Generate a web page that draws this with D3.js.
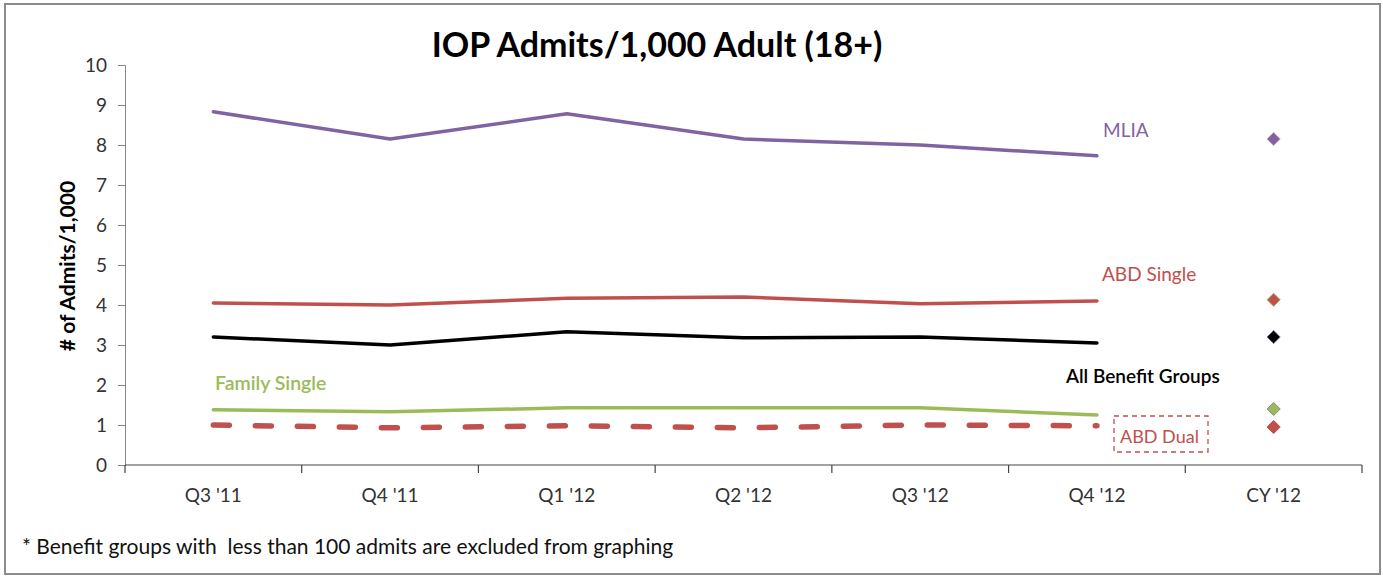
<!DOCTYPE html>
<html>
<head>
<meta charset="utf-8">
<script src="https://cdn.jsdelivr.net/npm/d3@7"></script>
<style>
  body { margin: 0; background: #fff; }
  text { font-family: Lato, "Open Sans", sans-serif; }
</style>
</head>
<body>
<script>
// quarters + the CY column
const quarters = ["Q3 '11", "Q4 '11", "Q1 '12", "Q2 '12", "Q3 '12", "Q4 '12"];
const categories = quarters.concat(["CY '12"]);

const mlia = [8.83, 8.15, 8.78, 8.15, 8.0, 7.73];
const abdSingle = [4.05, 4.0, 4.17, 4.2, 4.03, 4.1];
const allGroups = [3.2, 3.0, 3.33, 3.18, 3.2, 3.05];
const familySingle = [1.38, 1.33, 1.43, 1.43, 1.43, 1.25];
const abdDual = [1.0, 0.93, 0.98, 0.93, 1.0, 0.98];

// CY '12 values (diamonds)
const cyValues = [8.15, 4.13, 3.2, 1.4, 0.95];

const yTicks = [0, 1, 2, 3, 4, 5, 6, 7, 8, 9, 10];

const width = 1383, height = 577;

const svg = d3.select("body").append("svg")
  .attr("width", width).attr("height", height);

// outer frame
svg.append("rect")
  .attr("x", 5).attr("y", 4).attr("width", 1375).attr("height", 570)
  .attr("fill", "#fff").attr("stroke", "#8c8c8c").attr("stroke-width", 2);

const x = d3.scaleBand().domain(categories).range([125, 1362]);
const y = d3.scaleLinear().domain([0, 10]).range([465, 65]);

// y axis
const yAxis = svg.append("g")
  .attr("transform", "translate(125,0)")
  .call(d3.axisLeft(y).tickValues(yTicks).tickSize(7).tickPadding(11));
yAxis.select(".domain").attr("stroke", "#868686");
yAxis.selectAll(".tick line").attr("stroke", "#868686");
yAxis.selectAll("text").attr("font-size", 19).attr("fill", "#333")
  .style("font-family", "Lato, sans-serif");

// x axis with ticks on band boundaries
const xAxisG = svg.append("g").attr("transform", "translate(0,465)");
xAxisG.append("line").attr("x1", 125).attr("x2", 1362)
  .attr("stroke", "#444").attr("stroke-width", 1.2);
const bounds = categories.map(c => x(c)).concat([x.range()[1]]);
xAxisG.selectAll(".bt").data(bounds).enter().append("line")
  .attr("x1", d => d).attr("x2", d => d).attr("y1", 0).attr("y2", 8)
  .attr("stroke", "#444").attr("stroke-width", 1.2);
xAxisG.selectAll(".cl").data(categories).enter().append("text")
  .attr("x", d => x(d) + x.bandwidth() / 2).attr("y", 37)
  .attr("text-anchor", "middle").attr("font-size", 19).attr("fill", "#333")
  .text(d => d);

// title
svg.append("text").attr("x", 657).attr("y", 57)
  .attr("text-anchor", "middle").attr("font-size", 34).attr("font-weight", "bold")
  .text("IOP Admits/1,000 Adult (18+)");

// y label
svg.append("text")
  .attr("transform", "translate(75,266) rotate(-90)")
  .attr("text-anchor", "middle").attr("font-size", 21).attr("font-weight", "bold")
  .text("# of Admits/1,000");

const cx = d => x(d) + x.bandwidth() / 2;
const line = d3.line().x((d, i) => cx(quarters[i])).y(d => y(d));

const series = [
  { vals: mlia, color: "#8064A2", w: 3.5 },
  { vals: abdSingle, color: "#C0504D", w: 3.5 },
  { vals: allGroups, color: "#000000", w: 3.5 },
  { vals: familySingle, color: "#9BBB59", w: 3.5 },
  { vals: abdDual, color: "#C0504D", w: 5.5, dash: "16,26" }
];

series.forEach(s => {
  svg.append("path").datum(s.vals)
    .attr("d", line).attr("fill", "none")
    .attr("stroke", s.color).attr("stroke-width", s.w)
    .attr("stroke-linecap", "round").attr("stroke-linejoin", "round")
    .attr("stroke-dasharray", s.dash || null);
});

// CY diamonds
const diamondStroke = ["#c9a0b0", "#9BBB59", "#6d6d9c", "#8c8c8c", "#C0504D"];
const sym = d3.symbol().type(d3.symbolDiamond2).size(110);
cyValues.forEach((v, i) => {
  svg.append("path")
    .attr("d", sym)
    .attr("transform", `translate(${cx("CY '12")},${y(v)})`)
    .attr("fill", series[i].color)
    .attr("stroke", diamondStroke[i]).attr("stroke-width", 1);
});

// series labels
svg.append("text").attr("x", 1103).attr("y", 137).attr("font-size", 19)
  .attr("fill", "#8064A2").text("MLIA");
svg.append("text").attr("x", 1102).attr("y", 281).attr("font-size", 19)
  .attr("fill", "#C0504D").text("ABD Single");
svg.append("text").attr("x", 1066).attr("y", 383).attr("font-size", 19)
  .attr("font-weight", 600).attr("fill", "#000").text("All Benefit Groups");
svg.append("text").attr("x", 215).attr("y", 390).attr("font-size", 19.5)
  .attr("font-weight", 600).attr("fill", "#9BBB59").text("Family Single");
svg.append("rect").attr("x", 1114).attr("y", 416).attr("width", 94).attr("height", 36)
  .attr("fill", "none").attr("stroke", "#C0504D").attr("stroke-width", 1.3)
  .attr("stroke-dasharray", "5,4");
svg.append("text").attr("x", 1120).attr("y", 443).attr("font-size", 18)
  .attr("fill", "#C0504D").text("ABD Dual");

// footnote
svg.append("text").attr("x", 22).attr("y", 554).attr("font-size", 21)
  .attr("fill", "#111").text("* Benefit groups with  less than 100 admits are excluded from graphing")
  .attr("xml:space", "preserve").style("white-space", "pre");
</script>
</body>
</html>
